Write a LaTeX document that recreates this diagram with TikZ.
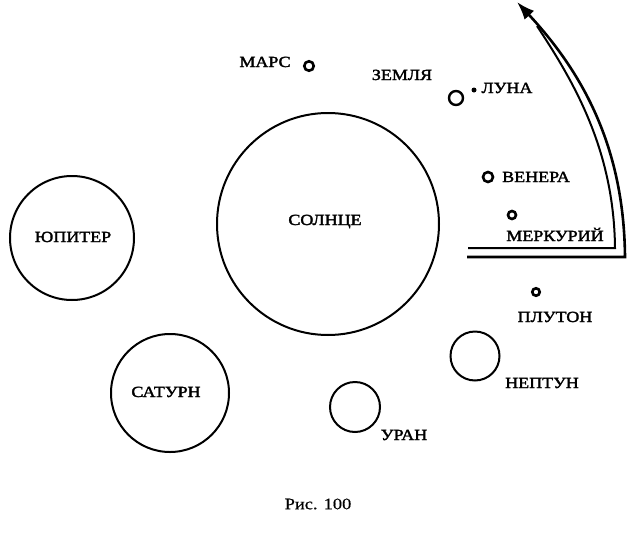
\documentclass[tikz,border=0pt]{standalone}
\usepackage{fontspec}
\setmainfont{Liberation Serif}
\newfontfamily\planetfont[FakeStretch=1.16,FakeBold=2]{Liberation Serif}
\newfontfamily\captionfont[FakeStretch=1.15,FakeBold=0.5]{Liberation Serif}
\usetikzlibrary{arrows.meta}

\tikzset{
	planet/.style={draw, circle, line width=2pt, inner sep=0pt},
	smallplanet/.style={draw, circle, line width=2.6pt, inner sep=0pt},
	planetname/.style={font=\planetfont\fontsize{15.5}{15.5}\selectfont, inner sep=0pt, text height=10pt, text depth=0pt},
	orbitline/.style={line width=2.6pt, line join=miter},
}

\begin{document}
\begin{tikzpicture}[x=1pt, y=-1pt]

		\useasboundingbox (0,0) rectangle (640,536);

		%Grosse Planeten
		\node [planet, minimum size=222pt] (sun) at (328,224) {};
		\node [planet, minimum size=124pt] (jupiter) at (72,238) {};
		\node [planet, minimum size=118pt] (saturn) at (170,393) {};
		\node [planet, minimum size=50pt] (uranus) at (355,407) {};
		\node [planet, minimum size=49pt] (neptune) at (475,356) {};

		%Kleine Planeten
		\node [smallplanet, minimum size=9.5pt] (mars) at (309,66) {};
		\node [planet, line width=2.4pt, minimum size=14pt] (earth) at (456,98) {};
		\node [fill, circle, inner sep=0pt, minimum size=5pt] (moon) at (474,90) {};
		\node [smallplanet, minimum size=10pt] (venus) at (488,177) {};
		\node [smallplanet, minimum size=8pt] (mercury) at (512,215) {};
		\node [smallplanet, minimum size=7.5pt] (pluto) at (536,292) {};

		%Namen
		\node [planetname] (sunname) at (325,220) {СОЛНЦЕ};
		\node [planetname] (jupitername) at (73,237) {ЮПИТЕР};
		\node [planetname] (saturnname) at (166,392) {САТУРН};
		\node [planetname] (uranusname) at (404,435) {УРАН};
		\node [planetname] (neptunename) at (542,383) {НЕПТУН};
		\node [planetname] (marsname) at (265,62) {МАРС};
		\node [planetname] (earthname) at (402,75) {ЗЕМЛЯ};
		\node [planetname] (moonname) at (507,88) {ЛУНА};
		\node [planetname] (venusname) at (536,177) {ВЕНЕРА};
		\node [planetname] (mercuryname) at (555,236) {МЕРКУРИЙ};
		\node [planetname] (plutoname) at (555,317) {ПЛУТОН};

		%Doppelpfeil
		\coordinate (innerstart) at (468,248);
		\coordinate (innercorner) at (615,248);
		\coordinate (innerend) at (537,26);
		\coordinate (outerstart) at (467,257);
		\coordinate (outercorner) at (625,257);
		\coordinate (tip) at (517,2);
		\draw [orbitline, line width=2pt] (innerstart) -- (innercorner)
			.. controls (614,150) and (574,82) .. (innerend);
		\draw [orbitline, -{Latex[length=18pt, width=13pt]}] (outerstart) -- (outercorner)
			.. controls (624,150) and (585,75) .. (tip);

		%Unterschrift
		\node [font=\captionfont\fontsize{16}{16}\selectfont, inner sep=0pt] (caption) at (318,504) {Рис. 100};

\end{tikzpicture}
\end{document}
